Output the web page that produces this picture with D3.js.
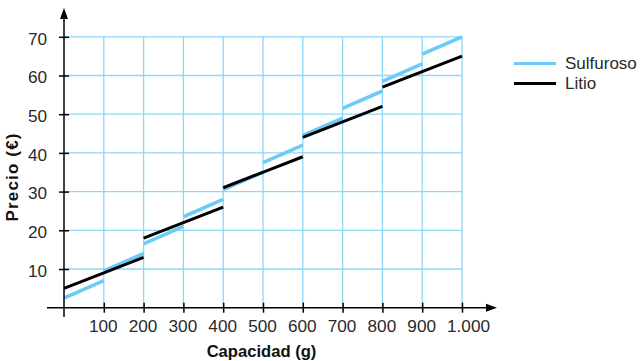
<!DOCTYPE html>
<html><head><meta charset="utf-8">
<script src="https://cdn.jsdelivr.net/npm/d3@7/dist/d3.min.js"></script>
<style>body{margin:0;background:#fff}svg{display:block}</style>
</head><body>
<svg id="c" width="640" height="361"></svg>
<script>
// Data
const xTicks = [100,200,300,400,500,600,700,800,900,1000];
const yTicks = [10,20,30,40,50,60,70];
const sulfBreaks = [0,100,200,300,400,500,600,700,800,900,1000];
const sulfStart = [2.5,9.5,16.5,23.5,30.5,37.5,44.5,51.5,58.5,65.5];
const sulfEnd   = [7,14,21,28,35,42,49,56,63,70];
const litioBreaks = [0,200,400,600,800,1000];
const litioStart = [5,18,31,44,57];
const litioEnd   = [13,26,39,52,65];
const seriesNames = ["Sulfuroso","Litio"];

const svg = d3.select("#c");
const x = d3.scaleLinear().domain([0,1000]).range([64,462]);
const y = d3.scaleLinear().domain([0,70]).range([307.7,36.8]);
const FONT = "Liberation Sans, Arial, sans-serif";
const gridCol = "#8ed7f7", blue = "#6ccbf7", txt = "#2a2a2a";

// grid
const g = svg.append("g");
g.selectAll("line.v").data(xTicks).join("line")
  .attr("x1",d=>x(d)).attr("x2",d=>x(d)).attr("y1",y(0)).attr("y2",y(70))
  .attr("stroke",gridCol).attr("stroke-width",1.3);
g.selectAll("line.h").data(yTicks).join("line")
  .attr("x1",x(0)).attr("x2",x(1000)).attr("y1",d=>y(d)).attr("y2",d=>y(d))
  .attr("stroke",gridCol).attr("stroke-width",1.3);

// series
const line = d3.line().x(d=>x(d[0])).y(d=>y(d[1]));
function segs(br, st, en){ return st.map((s,i)=>[[br[i],s],[br[i+1],en[i]]]); }
svg.append("g").selectAll("path").data(segs(sulfBreaks,sulfStart,sulfEnd)).join("path")
  .attr("d",line).attr("stroke",blue).attr("stroke-width",3.6).attr("fill","none");
svg.append("g").selectAll("path").data(segs(litioBreaks,litioStart,litioEnd)).join("path")
  .attr("d",line).attr("stroke","#000").attr("stroke-width",3).attr("fill","none");

// axes
const ax = svg.append("g");
ax.append("line").attr("x1",47).attr("x2",488).attr("y1",y(0)).attr("y2",y(0)).attr("stroke","#000").attr("stroke-width",1.5);
ax.append("path").attr("d",`M497,${y(0)} L486,${y(0)-4} L486,${y(0)+4} Z`).attr("fill","#000");
ax.append("line").attr("x1",x(0)).attr("x2",x(0)).attr("y1",317).attr("y2",18).attr("stroke","#000").attr("stroke-width",1.5);
ax.append("path").attr("d",`M${x(0)},8 L${x(0)-4},19 L${x(0)+4},19 Z`).attr("fill","#000");

const xAxis = d3.axisBottom(x).tickValues(xTicks).tickSizeInner(4).tickSizeOuter(0).tickPadding(8)
  .tickFormat(d=>d>=1000 ? d3.format(",")(d).replace(",",".") : d);
const xa = svg.append("g").attr("transform",`translate(0,${y(0)})`).call(xAxis);
xa.select(".domain").remove();
xa.selectAll(".tick line").attr("y1",-5).attr("y2",5).attr("stroke","#000").attr("stroke-width",1.5);
xa.selectAll("text").attr("font-family",FONT).attr("font-size",17.2).attr("fill",txt).attr("dy","0.71em")
  .attr("dx",d=>d>=1000?6:-1);

const yAxis = d3.axisLeft(y).tickValues(yTicks).tickSizeOuter(0).tickPadding(11);
const ya = svg.append("g").attr("transform",`translate(${x(0)},0)`).call(yAxis);
ya.select(".domain").remove();
ya.selectAll(".tick line").attr("x1",-5).attr("x2",5).attr("stroke","#000").attr("stroke-width",1.5);
ya.selectAll("text").attr("font-family",FONT).attr("font-size",17.2).attr("fill",txt).attr("dy","0.42em");

// titles
svg.append("text").attr("x",261.5).attr("y",357).attr("text-anchor","middle")
  .attr("font-family",FONT).attr("font-weight","bold").attr("font-size",16.6).attr("fill","#111")
  .text("Capacidad (g)");
svg.append("text").attr("transform",`translate(17.5,177.5) rotate(-90)`).attr("text-anchor","middle")
  .attr("font-family",FONT).attr("font-weight","bold").attr("font-size",17).attr("fill","#111")
  .attr("textLength",88).attr("lengthAdjust","spacing")
  .text("Precio (€)");

// legend
const lg = svg.append("g");
const lcol = [blue,"#000"];
seriesNames.forEach((n,i)=>{
  const yy = 63.5 + i*20;
  lg.append("line").attr("x1",514).attr("x2",556).attr("y1",yy).attr("y2",yy).attr("stroke",lcol[i]).attr("stroke-width",3);
  lg.append("text").attr("x",565).attr("y",yy).attr("dy","0.35em").attr("font-family",FONT).attr("font-size",17).attr("fill",txt).text(n);
});
</script>
</body></html>
